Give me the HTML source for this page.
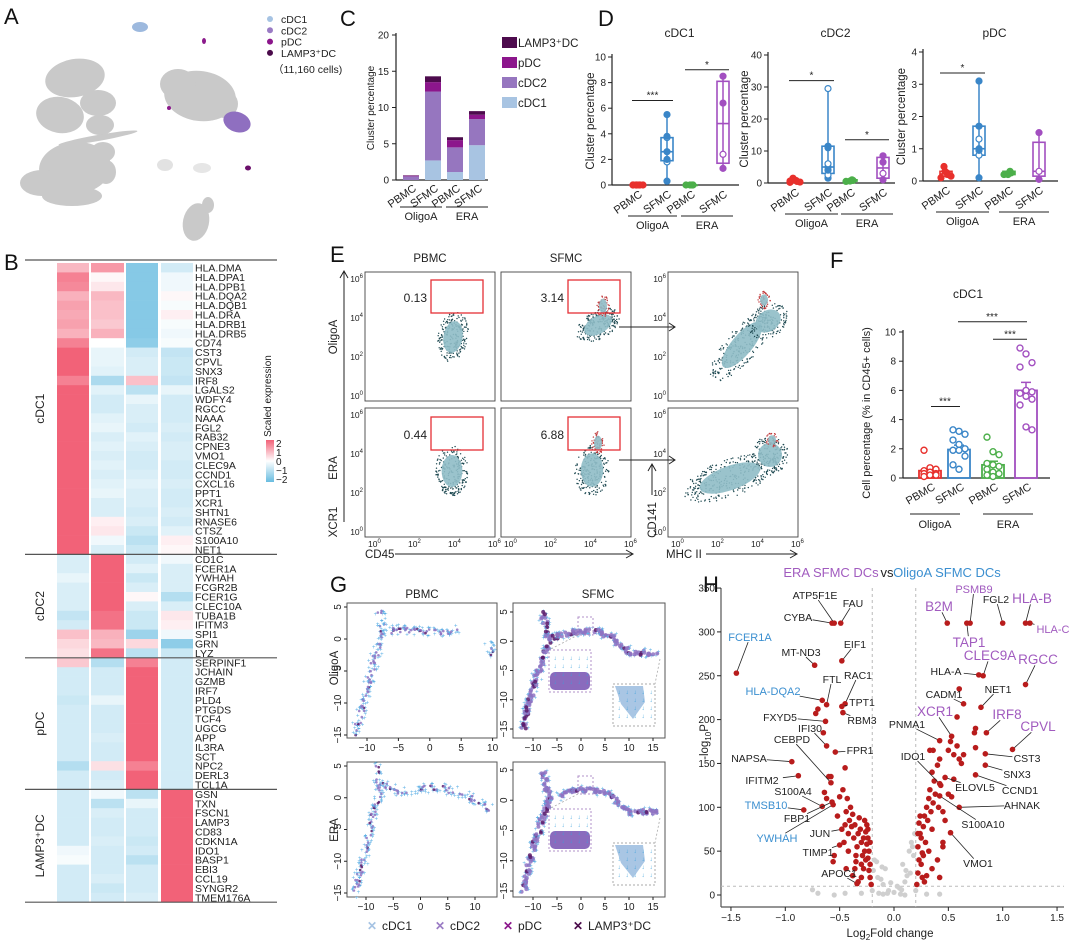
<!DOCTYPE html>
<html><head><meta charset="utf-8"><title>DC figure</title>
<style>
html,body{margin:0;padding:0;background:#fff;}
svg{display:block;font-family:"Liberation Sans",Arial,sans-serif;}
</style></head>
<body>
<svg id="fig" width="1080" height="943" viewBox="0 0 1080 943" xmlns="http://www.w3.org/2000/svg"></svg>
<script>
// ---------- DATA ----------
const bGroups=['cDC1','cDC2','pDC','LAMP3⁺DC'];
const bGroupSizes=[31,11,14,12];
const bGenes=['HLA.DMA','HLA.DPA1','HLA.DPB1','HLA.DQA2','HLA.DQB1','HLA.DRA','HLA.DRB1','HLA.DRB5','CD74','CST3','CPVL','SNX3','IRF8','LGALS2','WDFY4','RGCC','NAAA','FGL2','RAB32','CPNE3','VMO1','CLEC9A','CCND1','CXCL16','PPT1','XCR1','SHTN1','RNASE6','CTSZ','S100A10','NET1',
'CD1C','FCER1A','YWHAH','FCGR2B','FCER1G','CLEC10A','TUBA1B','IFITM3','SPI1','GRN','LYZ',
'SERPINF1','JCHAIN','GZMB','IRF7','PLD4','PTGDS','TCF4','UGCG','APP','IL3RA','SCT','NPC2','DERL3','TCL1A',
'GSN','TXN','FSCN1','LAMP3','CD83','CDKN1A','IDO1','BASP1','EBI3','CCL19','SYNGR2','TMEM176A'];
const bValues=[
[0.9,1.3,-1.6,-0.6],[1.6,0.1,-1.6,-0.2],[1.5,0.3,-1.6,-0.2],[1.0,0.9,-1.6,0.1],[1.2,0.8,-1.6,-0.1],[1.1,0.8,-1.6,0.2],[1.2,0.7,-1.6,-0.1],[1.0,1.0,-1.6,-0.2],[1.6,0.0,-1.5,-0.1],
[2,-0.3,-0.6,-0.8],[2,-0.3,-0.5,-0.7],[2,-0.4,-0.5,-0.7],[1.6,-1.1,0.8,-0.8],[2,-0.4,-0.9,-0.3],[2,-0.6,-0.3,-0.6],[2,-0.6,-0.5,-0.6],[2,-0.4,-0.5,-0.6],[2,-0.3,-0.6,-0.5],[2,-0.5,-0.4,-0.6],[2,-0.4,-0.5,-0.5],[2,-0.5,-0.6,-0.5],[2,-0.4,-0.6,-0.6],[2,-0.5,-0.5,-0.6],[2,-0.4,-0.4,-0.5],[2,-0.3,-0.5,-0.6],[2,-0.5,-0.5,-0.6],[2,-0.5,-0.6,-0.5],[2,0.2,-0.5,-0.6],[2,0.3,-0.7,-0.4],[2,-0.2,-0.9,0.2],[2,-0.5,-0.7,0.1],
[-0.5,2,-0.6,-0.2],[-0.5,2,-0.4,-0.5],[-0.3,2,-0.7,-0.5],[-0.5,2,-0.5,-0.5],[-0.5,2,0.1,-1.0],[-0.5,2,-0.5,-0.5],[-0.8,1.8,-0.7,0.3],[-0.6,1.8,-0.7,0.2],[0.8,1.0,-1.3,-0.2],[0.5,0.9,0.5,-1.5],[0.4,1.8,-0.9,-0.7],
[0.7,-1.0,1.6,-0.6],[-0.6,-0.6,2,-0.6],[-0.6,-0.6,2,-0.6],[-0.6,-0.6,2,-0.6],[-0.7,-0.3,2,-0.6],[-0.6,-0.6,2,-0.6],[-0.6,-0.6,2,-0.6],[-0.6,-0.6,2,-0.6],[-0.6,-0.5,2,-0.6],[-0.6,-0.6,2,-0.6],[-0.6,-0.6,2,-0.6],[-1.0,0.4,1.6,-0.6],[-0.6,-0.6,2,-0.6],[-0.6,-0.5,2,-0.6],
[-0.6,-0.2,-0.9,2],[-0.6,-0.9,-0.3,2],[-0.6,-0.5,-0.6,2],[-0.6,-0.6,-0.6,2],[-0.6,-0.6,-0.6,2],[-0.6,-0.5,-0.7,2],[-0.2,-0.6,-0.6,2],[-0.1,-0.6,-0.9,2],[-0.6,-0.6,-0.6,2],[-0.6,-0.5,-0.6,2],[-0.6,-0.7,-0.6,2],[-0.6,-0.6,-0.5,2]];
const bTicks=[2,1,0,-1,-2];

const cCats=['PBMC','SFMC','PBMC','SFMC'];
const cCDC1=[0,2.7,1.1,4.8];
const cCDC2=[0.5,9.5,3.4,3.6];
const cPDC=[0.1,1.3,1.0,0.6];
const cLAMP3=[0.05,0.8,0.4,0.5];
const cTicks=[0,5,10,15,20];

const dCats=['PBMC','SFMC','PBMC','SFMC'];
const d1Pts=[[0,0,0,0,0,0,0],[0.3,1.8,2.0,2.6,3.7,3.8,5.5],[0,0,0,0],[1.3,2.4,6.4,8.5]];
const d1Box=[[0,0,0,0,0],[0.3,1.9,2.6,3.7,5.5],[0,0,0,0,0],[1.3,1.7,4.8,8.1,8.5]];
const d1Ticks=[0,2,4,6,8,10];
const d2Pts=[[0.2,0.5,0.8,1.0,1.5,0.3,0.6],[1.5,2.5,4,5,6,11,11.5,29.5],[0.5,0.8,1.0,0.6],[1,3,6.5,8.5]];
const d2Box=[[0.2,0.4,0.6,0.9,1.5],[1.5,3,5,11.5,29.5],[0.5,0.6,0.8,1.0,1.0],[1,1.5,4.7,8,8.5]];
const d2Ticks=[0,10,20,30,40];
const d3Pts=[[0.1,0.2,0.25,0.3,0.45,0.15],[0.1,0.8,0.95,1.0,1.3,1.7,3.1],[0.2,0.25,0.3,0.2],[0.05,0.3,1.5]];
const d3Box=[[0.1,0.15,0.22,0.3,0.45],[0.1,0.8,1.0,1.7,3.1],[0.2,0.2,0.25,0.3,0.3],[0.05,0.15,0.3,1.2,1.5]];
const d3Ticks=[0,1,2,3,4];

const eVals=['0.13','3.14','0.44','6.88'];

const fCats=['PBMC','SFMC','PBMC','SFMC'];
const fMeans=[0.5,1.95,0.9,6.0];
const fSem=[0.15,0.3,0.25,0.55];
const fPts=[[1.9,0.7,0.6,0.5,0.4,0.3,0.3,0.2,0.2,0.1],[3.3,3.2,3.0,2.6,2.3,2.0,1.9,1.9,1.5,0.9,0.6],[2.8,1.8,1.6,1.0,0.9,0.8,0.6,0.4,0.3,0.2,0.1],[8.9,8.5,7.9,7.6,6.0,5.9,5.8,5.6,5.4,5.0,3.5,3.3]];
const fTicks=[0,2,4,6,8,10];

const gPathPO=[[-12,-15],[-11,-12],[-10,-8],[-9,-4],[-8,-1],[-7.5,2],[-8,4.8]];
const gBranchPO=[[-7,1],[-5,1.5],[0,1.2],[3,1],[4.5,1.8]];
const gIsoPO=[[9.5,0],[9.8,-3]];
const gPathSO=[[-12,-15],[-10,-8],[-8,-3],[-6.5,0],[-8,5]];
const gBranchSO=[[-6,0.5],[-2,1.5],[2,1.8],[6,1],[10,-2],[16,-2]];
const gPathPE=[[-12,-15],[-10,-8],[-8.5,-2],[-7.5,0],[-8,5]];
const gBranchPE=[[-7,2],[-4,1],[0,1.5],[4,1.5],[8,0.5],[13,-2]];
const gXTicks=[-10,-5,0,5,10,15];
const gYTicks=[5,0,-5,-10,-15];

const hXTicks=[-1.5,-1.0,-0.5,0.0,0.5,1.0,1.5];
const hYTicks=[0,50,100,150,200,250,300,350];
const hRedFC=[-0.21,-0.22,-0.23,-0.22,-0.24,-0.23,-0.25,-0.24,-0.26,-0.25,-0.27,-0.28,-0.29,-0.3,-0.31,-0.3,-0.32,-0.33,-0.34,-0.35,-0.36,-0.37,-0.38,-0.39,-0.4,-0.41,-0.42,-0.43,-0.44,-0.45,-0.46,-0.47,-0.5,-0.52,-0.55,-0.56,-0.6,-0.62,-0.64,-0.58,-0.45,-0.36,-0.38,-0.33,-0.35,-0.28,-0.26,-0.42,-0.44,-0.7,-0.72,-0.65,-0.22,-0.27,-0.3,-0.24,
0.21,0.22,0.23,0.22,0.24,0.23,0.25,0.26,0.27,0.28,0.29,0.3,0.31,0.32,0.33,0.34,0.35,0.36,0.37,0.38,0.4,0.41,0.42,0.43,0.45,0.47,0.5,0.52,0.55,0.58,0.6,0.62,0.64,0.5,0.53,0.45,0.4,0.35,0.3,0.28,0.25,0.26,0.33,0.36,0.55,0.45,0.75,0.74,0.75,0.6,0.58,0.42,0.35,0.32,0.22,0.24,0.27];
const hRedP=[12,20,28,35,42,50,58,65,72,80,85,30,45,60,75,20,88,70,55,38,80,65,92,78,100,85,70,110,95,80,60,120,112,90,45,38,135,110,117,135,145,30,22,15,45,65,40,50,30,212,207,185,60,50,35,75,
12,25,40,55,70,82,65,48,78,90,60,100,85,110,120,95,140,105,130,115,148,100,155,125,95,85,165,175,160,170,155,150,160,115,112,60,40,30,22,15,35,20,165,165,132,55,190,185,168,235,203,20,75,50,70,90,45];
const hGreyFC=[-0.05,0.05,-0.1,0.1,-0.15,0.15,0.0,-0.08,0.08,-0.12,0.12,-0.18,0.18,0.03,-0.03,0.16,-0.16,0.11,-0.11,0.19,-0.19,0.07,-0.2,0.2,-0.3,-0.45,-0.55,-0.7,-0.75,0.3,0.42,-0.1,0.1,0.14,-0.14,0.17,-0.06,0.06];
const hGreyP=[5,8,12,15,20,25,3,30,35,18,22,40,45,10,14,60,38,28,32,70,28,6,5,5,2,2,0,2,6,1,1,1,0,50,2,55,2,1];
const hLabelNames=['FCER1A','CYBA','ATP5F1E','FAU','MT-ND3','EIF1','FTL','RAC1','HLA-DQA2','TPT1','FXYD5','RBM3','IFI30','CEBPD','FPR1','NAPSA','IFITM2','S100A4','TMSB10','FBP1','JUN','YWHAH','TIMP1','APOC1',
'B2M','PSMB9','FGL2','HLA-B','HLA-C','TAP1','CLEC9A','RGCC','HLA-A','NET1','CADM1','XCR1','IRF8','CPVL','PNMA1','CST3','IDO1','SNX3','ELOVL5','CCND1','AHNAK','S100A10','VMO1'];
const hLabelFC=[-1.45,-0.57,-0.55,-0.49,-0.73,-0.48,-0.62,-0.45,-0.66,-0.48,-0.63,-0.47,-0.62,-0.58,-0.54,-0.94,-0.88,-0.66,-0.83,-0.57,-0.48,-0.56,-0.5,-0.34,
0.49,0.7,1.0,1.21,1.25,0.67,0.82,1.21,0.78,0.8,0.64,0.53,0.85,1.09,0.42,0.84,0.42,0.84,0.47,0.75,0.6,0.42,0.52];
const hLabelP=[253,310,310,310,262,267,217,218,222,215,198,208,170,128,163,152,136,101,97,106,75,103,57,13,
310,310,310,310,310,310,250,240,251,214,218,181,185,166,176,161,127,148,134,137,100,113,71];

// ---------- HELPERS ----------
const NS='http://www.w3.org/2000/svg';
const svg=document.getElementById('fig');
function el(tag,attrs,parent,name,inter){
  const e=document.createElementNS(NS,tag);
  for(const k in attrs) e.setAttribute(k,attrs[k]);
  
  
  (parent||svg).appendChild(e);
  return e;
}
function tx(x,y,s,size,parent,name,opt){
  opt=opt||{};
  const a={x:x,y:y,'font-size':size,fill:opt.fill||'#222'};
  if(opt.anchor) a['text-anchor']=opt.anchor;
  if(opt.rot!==undefined) a.transform='rotate('+opt.rot+' '+x+' '+y+')';
  if(opt.weight) a['font-weight']=opt.weight;
  const t=el('text',a,parent,name);
  t.textContent=s;
  return t;
}
function line(x1,y1,x2,y2,parent,name,stroke,w,dash){
  const a={x1:x1,y1:y1,x2:x2,y2:y2,stroke:stroke||'#222','stroke-width':w||1};
  if(dash) a['stroke-dasharray']=dash;
  return el('line',a,parent,name);
}
function rnd(i){const v=Math.sin(i*12.9898+78.233)*43758.5453;return v-Math.floor(v);}
function group(name){return el('g',{},svg,name);}
function letter(x,y,s){tx(x,y,s,22,svg,'panel-label-'+s.toLowerCase(),{fill:'#111'});}

// ---------- PANEL A ----------
letter(4,24,'A');
const gA=group('umap-panel');
const blobs=[[75,78,30,19,-10],[98,103,18,13,0],[60,115,24,18,10],[100,125,14,10,0],[75,168,36,26,-5],[42,183,22,13,0],[103,152,12,10,0],[72,196,30,10,0],[106,172,10,12,0],[98,138,40,3,-10],
[200,96,36,25,8],[178,84,18,15,0],[224,104,14,14,0],[196,222,13,19,12],[208,205,6,8,0]];
blobs.forEach((b,i)=>{el('ellipse',{cx:b[0],cy:b[1],rx:b[2],ry:b[3],fill:'#c9c9c9',transform:'rotate('+b[4]+' '+b[0]+' '+b[1]+')'},gA,'umap-cluster');});
el('ellipse',{cx:165,cy:165,rx:8,ry:6,fill:'#e2e2e2'},gA,'umap-cluster-small');
el('ellipse',{cx:202,cy:168,rx:9,ry:5,fill:'#e6e6e6'},gA,'umap-cluster-small');
el('ellipse',{cx:140,cy:27,rx:8,ry:5,fill:'#9db9de'},gA,'umap-cdc1-cluster');
el('ellipse',{cx:237,cy:122,rx:14,ry:10,fill:'#8f6fc0',transform:'rotate(20 237 122)'},gA,'umap-cdc2-cluster');
el('ellipse',{cx:204,cy:41,rx:2,ry:3,fill:'#8b1a8b'},gA,'umap-pdc-cluster');
el('ellipse',{cx:169,cy:108,rx:2,ry:2,fill:'#8b1a8b'},gA,'umap-pdc-cluster');
el('ellipse',{cx:248,cy:168,rx:3,ry:2.5,fill:'#6b0f6b'},gA,'umap-lamp3-cluster');
const aLeg=[['cDC1','#a6c3e3'],['cDC2','#9a7bc4'],['pDC','#8b168b'],['LAMP3⁺DC','#4a0a4a']];
aLeg.forEach((l,i)=>{
  const g=el('g',{},gA,'legend-entry-'+l[0].toLowerCase().replace('⁺',''));
  el('circle',{cx:270,cy:19+i*11.3,r:3,fill:l[1]},g,'legend-marker');
  tx(281,23+i*11.3,l[0],10.5,g,'legend-label');
});
tx(273,73,'（11,160 cells)',10.5,gA,'cell-count-note');

// ---------- PANEL B ----------
letter(4,270,'B');
const gB=group('heatmap-panel');
function hmColor(v){
  v=Math.max(-2,Math.min(2,v));
  let r,g,b;
  if(v>=0){const t=v/2;r=255-(255-242)*t;g=255-(255-98)*t;b=255-(255-120)*t;}
  else{const t=-v/2;r=255-(255-104)*t;g=255-(255-188)*t;b=255-(255-224)*t;}
  return 'rgb('+Math.round(r)+','+Math.round(g)+','+Math.round(b)+')';
}
const rowH=9.4, hmTop=263, colX=[57,91,126,161], colW=[32,33,32,32];
bValues.forEach((row,ri)=>{
  row.forEach((v,ci)=>{
    el('rect',{x:colX[ci],y:(hmTop+ri*rowH).toFixed(2),width:colW[ci],height:(rowH+0.3).toFixed(2),fill:hmColor(v)},gB,'heatmap-cell');
  });
  tx(195,hmTop+ri*rowH+8.5,bGenes[ri],10.5,gB,'gene-label',{fill:'#222'});
});
let acc=0;
line(25,260,277,260,gB,'group-separator','#555',1.2);
bGroupSizes.forEach((n,i)=>{
  const y0=hmTop+acc*rowH; acc+=n; const y1=hmTop+acc*rowH;
  line(25,y1,277,y1,gB,'group-separator','#555',1.2);
  tx(44,(y0+y1)/2,bGroups[i],12,gB,'group-label-'+i,{anchor:'middle',rot:-90});
});
tx(271,396,'Scaled expression',10,gB,'colorbar-title',{anchor:'middle',rot:-90});
const defs=el('defs',{},svg,'defs');
const lg=el('linearGradient',{id:'cbar',x1:0,y1:0,x2:0,y2:1},defs,'colorbar-gradient');
[[0,2],[0.5,0],[1,-2]].forEach(s=>{el('stop',{offset:s[0],'stop-color':hmColor(s[1])},lg,'gradient-stop');});
el('rect',{x:266,y:440,width:8,height:42,fill:'url(#cbar)'},gB,'colorbar');
bTicks.forEach((t,i)=>{tx(276,447+i*9,(t<0?'−':'')+Math.abs(t),10,gB,'colorbar-tick');});

// ---------- PANEL C ----------
letter(340,26,'C');
const gC=group('stacked-bar-panel');
const yC=v=>180-v*(145/20);
const xC=i=>411+i*22;
line(396,33,396,180,gC,'y-axis','#222',1.2);
line(396,180,488,180,gC,'x-axis','#222',1.2);
cTicks.forEach(t=>{line(392,yC(t),396,yC(t),gC,'y-tick');tx(389,yC(t)+3.5,String(t),10,gC,'y-tick-label',{anchor:'end'});});
tx(374,108,'Cluster percentage',10,gC,'y-axis-title',{anchor:'middle',rot:-90});
const cSeries=[[cCDC1,'#a8c4e2','cdc1'],[cCDC2,'#9676bf','cdc2'],[cPDC,'#8c168c','pdc'],[cLAMP3,'#4d0b4d','lamp3']];
cCats.forEach((c,i)=>{
  let base=0;
  cSeries.forEach(s=>{
    const v=s[0][i];
    el('rect',{x:xC(i)-8,y:yC(base+v),width:16,height:yC(base)-yC(base+v),fill:s[1]},gC,'bar-'+s[2]+'-'+i);
    base+=v;
  });
  tx(xC(i)+6,190,c,11,gC,'x-tick-label',{anchor:'end',rot:-35});
});
line(400,207,442,207,gC,'group-line-oligoa');tx(421,220,'OligoA',11,gC,'group-label-oligoa',{anchor:'middle'});
line(446,207,488,207,gC,'group-line-era');tx(467,220,'ERA',11,gC,'group-label-era',{anchor:'middle'});
cSeries.slice().reverse().forEach((s,i)=>{
  const g=el('g',{},gC,'legend-entry-'+s[2]);
  el('rect',{x:502,y:37+i*20,width:15,height:11,fill:s[1]},g,'legend-swatch');
  tx(518,47+i*20,['LAMP3⁺DC','pDC','cDC2','cDC1'][i],11.5,g,'legend-label');
});

// ---------- PANEL D ----------
letter(598,26,'D');
const dCols=['#e8302c','#3a86c8','#4caf4a','#a24fc0'];
function boxPanel(cfg){
  const g=group('boxplot-'+cfg.name);
  const y=v=>cfg.y0-v*(cfg.y0-cfg.yt)/cfg.max;
  line(cfg.ax,cfg.yt-3,cfg.ax,cfg.y0,g,'y-axis','#222',1.2);
  line(cfg.ax,cfg.y0,cfg.end,cfg.y0,g,'x-axis','#222',1.2);
  cfg.ticks.forEach(t=>{line(cfg.ax-4,y(t),cfg.ax,y(t),g,'y-tick');tx(cfg.ax-6,y(t)+3.5,String(t),10,g,'y-tick-label',{anchor:'end'});});
  tx(cfg.ylx,(cfg.y0+cfg.yt)/2,'Cluster percentage',11.5,g,'y-axis-title',{anchor:'middle',rot:-90});
  tx((cfg.ax+cfg.end)/2+4,37,cfg.name,12,g,'panel-title',{anchor:'middle'});
  cfg.box.forEach((b,i)=>{
    const x=cfg.xs[i],c=dCols[i],w=12;
    line(x,y(b[0]),x,y(b[4]),g,'whisker',c,1.5);
    el('rect',{x:x-w/2,y:y(b[3]),width:w,height:Math.max(0.5,y(b[1])-y(b[3])),fill:'none',stroke:c,'stroke-width':1.6},g,'box-'+i);
    line(x-w/2,y(b[2]),x+w/2,y(b[2]),g,'median',c,1.6);
    cfg.pts[i].forEach((p,k)=>{
      const open=(i%2===1)&&(k%3===1);
      el('circle',{cx:x+((k%2)?2:-2)*(i%2?0:1)+(i%2?0:(k%3-1)*3),cy:y(p),r:3,fill:open?'#fff':c,stroke:c,'stroke-width':1.2},g,'data-point');
    });
    tx(x+5,cfg.y0+11,cfg.cats[i],11,g,'x-tick-label',{anchor:'end',rot:-35});
  });
  cfg.sig.forEach(s=>{
    line(cfg.xs[s[0]]-6,y(s[2]),cfg.xs[s[1]]+6,y(s[2]),g,'significance-bar');
    tx((cfg.xs[s[0]]+cfg.xs[s[1]])/2,y(s[2])-2,s[3],10,g,'significance-stars',{anchor:'middle'});
  });
  line(cfg.xs[0]-10,cfg.y0+31,cfg.xs[1]+10,cfg.y0+31,g,'group-line-oligoa');
  tx((cfg.xs[0]+cfg.xs[1])/2,cfg.y0+44,'OligoA',11,g,'group-label-oligoa',{anchor:'middle'});
  line(cfg.xs[2]-10,cfg.y0+31,cfg.xs[3]+10,cfg.y0+31,g,'group-line-era');
  tx((cfg.xs[2]+cfg.xs[3])/2,cfg.y0+44,'ERA',11,g,'group-label-era',{anchor:'middle'});
}
boxPanel({name:'cDC1',ax:612,xs:[638,667,691,723],y0:185,yt:57,max:10,ticks:d1Ticks,end:739,ylx:594,box:d1Box,pts:d1Pts,cats:dCats,sig:[[0,1,6.6,'***'],[2,3,9.0,'*']]});
boxPanel({name:'cDC2',ax:768,xs:[795,828,851,883],y0:183,yt:55,max:40,ticks:d2Ticks,end:895,ylx:748,box:d2Box,pts:d2Pts,cats:dCats,sig:[[0,1,32,'*'],[2,3,13.5,'*']]});
boxPanel({name:'pDC',ax:923,xs:[946,979,1009,1039],y0:181,yt:52,max:4,ticks:d3Ticks,end:1058,ylx:905,box:d3Box,pts:d3Pts,cats:dCats,sig:[[0,1,3.35,'*']]});

// ---------- PANEL E ----------
letter(330,262,'E');
const gE=group('flow-panel');
tx(430,262,'PBMC',11.5,gE,'column-title-pbmc',{anchor:'middle'});
tx(566,262,'SFMC',11.5,gE,'column-title-sfmc',{anchor:'middle'});
const ePlots=[[365,272],[501,272],[668,272],[365,408],[501,408],[668,408]];
ePlots.forEach((p,i)=>{el('rect',{x:p[0],y:p[1],width:130,height:129,fill:'#fff',stroke:'#444','stroke-width':0.9},gE,'flow-plot-'+i);});
function cloud(cx,cy,rx,ry,rot,n,seed,col,g){
  const r=rot*Math.PI/180;
  for(let i=0;i<n;i++){
    const a=rnd(seed*977+i)*Math.PI*2, d=Math.sqrt(rnd(seed*977+i+500))*1.25;
    const px=Math.cos(a)*rx*d, py=Math.sin(a)*ry*d;
    el('circle',{cx:(cx+px*Math.cos(r)-py*Math.sin(r)).toFixed(1),cy:(cy+px*Math.sin(r)+py*Math.cos(r)).toFixed(1),r:0.7,fill:col},g,'event-dot');
  }
  el('ellipse',{cx:cx,cy:cy,rx:rx*0.8,ry:ry*0.8,fill:'#8fbcc6',opacity:0.9,transform:'rotate('+rot+' '+cx+' '+cy+')'},g,'density-core');
}
cloud(453,337,12,20,10,220,1,'#1f4a52',gE);
cloud(598,325,19,11,-30,220,2,'#1f4a52',gE);
cloud(603,306,5,9,0,60,3,'#c0393b',gE);
cloud(742,345,13,36,40,260,4,'#1f4a52',gE);
cloud(768,321,17,13,-35,140,5,'#1f4a52',gE);
cloud(764,300,5,7,0,45,6,'#c0393b',gE);
cloud(452,471,13,20,0,220,7,'#1f4a52',gE);
cloud(592,470,14,21,0,220,8,'#1f4a52',gE);
cloud(598,443,5,9,0,60,9,'#c0393b',gE);
cloud(730,478,40,15,-20,320,10,'#1f4a52',gE);
cloud(770,455,15,15,0,140,11,'#1f4a52',gE);
cloud(772,440,5,6,0,40,12,'#c0393b',gE);
[[431,280],[568,280],[431,417],[568,417]].forEach((p,i)=>{
  el('rect',{x:p[0],y:p[1],width:52,height:33,fill:'none',stroke:'#e53035','stroke-width':1.3},gE,'gate-'+i);
  tx(p[0]-4,p[1]+22,eVals[i],12,gE,'gate-percentage',{anchor:'end'});
});
[[619,327],[619,460]].forEach((a,i)=>{
  line(a[0],a[1],675,a[1],gE,'gating-arrow');
  el('path',{d:'M669 '+(a[1]-4)+' L675 '+a[1]+' L669 '+(a[1]+4),fill:'none',stroke:'#222'},gE,'arrow-head');
});
const eT=['0','2','4','6'];
[[365,272],[365,408],[668,272],[668,408]].forEach((p,pi)=>{
  eT.forEach((t,i)=>{
    const yy=p[1]+124-i*39;
    const tt=tx(p[0]-2,yy+3,'10',8.5,gE,'y-tick-label',{anchor:'end'});
    const s=el('tspan',{dy:-4,'font-size':6},tt,'exponent');s.textContent=t;
  });
});
[365,501,668].forEach(x0=>{
  eT.forEach((t,i)=>{
    const tt=tx(x0+3+i*40,547,'10',8.5,gE,'x-tick-label',{anchor:'start'});
    const s=el('tspan',{dy:-4,'font-size':6},tt,'exponent');s.textContent=t;
  });
});
tx(337,337,'OligoA',11.5,gE,'row-label-oligoa',{anchor:'middle',rot:-90});
tx(337,468,'ERA',11.5,gE,'row-label-era',{anchor:'middle',rot:-90});
line(344,522,344,272,gE,'y-axis-arrow');
el('path',{d:'M340 278 L344 271 L348 278',fill:'none',stroke:'#222'},gE,'arrow-head');
tx(337,522,'XCR1',11.5,gE,'y-axis-title-xcr1',{anchor:'middle',rot:-90});
tx(365,558,'CD45',11.5,gE,'x-axis-title-cd45');
line(395,554,632,554,gE,'x-axis-arrow');
el('path',{d:'M626 550 L633 554 L626 558',fill:'none',stroke:'#222'},gE,'arrow-head');
tx(656,520,'CD141',11.5,gE,'y-axis-title-cd141',{anchor:'middle',rot:-90});
line(652,495,652,465,gE,'y-axis-arrow');
el('path',{d:'M648 471 L652 464 L656 471',fill:'none',stroke:'#222'},gE,'arrow-head');
tx(666,558,'MHC II',11.5,gE,'x-axis-title-mhcii');
line(706,554,796,554,gE,'x-axis-arrow');
el('path',{d:'M790 550 L797 554 L790 558',fill:'none',stroke:'#222'},gE,'arrow-head');

// ---------- PANEL F ----------
letter(830,268,'F');
const gF=group('bar-panel-f');
const yF=v=>478-v*14.6;
const xF=[930,959,993,1026];
line(903,330,903,478,gF,'y-axis','#222',1.2);
line(903,478,1050,478,gF,'x-axis','#222',1.2);
fTicks.forEach(t=>{line(899,yF(t),903,yF(t),gF,'y-tick');tx(896,yF(t)+3.5,String(t),10,gF,'y-tick-label',{anchor:'end'});});
tx(968,298,'cDC1',12,gF,'panel-title',{anchor:'middle'});
tx(870,413,'Cell percentage (% in CD45+ cells)',11,gF,'y-axis-title',{anchor:'middle',rot:-90});
fCats.forEach((c,i)=>{
  const x=xF[i],col=dCols[i];
  el('rect',{x:x-11,y:yF(fMeans[i]),width:22,height:yF(0)-yF(fMeans[i]),fill:'none',stroke:col,'stroke-width':1.8},gF,'bar-'+i);
  line(x,yF(fMeans[i]),x,yF(fMeans[i]+fSem[i]),gF,'error-bar',col,1.5);
  line(x-5,yF(fMeans[i]+fSem[i]),x+5,yF(fMeans[i]+fSem[i]),gF,'error-cap',col,1.5);
  fPts[i].forEach((p,k)=>{
    el('circle',{cx:x+((k%3)-1)*6,cy:yF(p),r:3,fill:'#fff',stroke:col,'stroke-width':1.4},gF,'data-point');
  });
  tx(x+6,489,c,11,gF,'x-tick-label',{anchor:'end',rot:-30});
});
line(931,yF(4.9),960,yF(4.9),gF,'significance-bar');tx(945,yF(4.9)-2,'***',10,gF,'significance-stars',{anchor:'middle'});
line(993,yF(9.5),1027,yF(9.5),gF,'significance-bar');tx(1010,yF(9.5)-2,'***',10,gF,'significance-stars',{anchor:'middle'});
line(958,yF(10.7),1027,yF(10.7),gF,'significance-bar');tx(992,yF(10.7)-2,'***',10,gF,'significance-stars',{anchor:'middle'});
line(910,514,960,514,gF,'group-line-oligoa');tx(935,528,'OligoA',11,gF,'group-label-oligoa',{anchor:'middle'});
line(983,514,1033,514,gF,'group-line-era');tx(1008,528,'ERA',11,gF,'group-label-era',{anchor:'middle'});

// ---------- PANEL G ----------
letter(330,592,'G');
const gG=group('trajectory-panel');
tx(422,598,'PBMC',11.5,gG,'column-title-pbmc',{anchor:'middle'});
tx(598,598,'SFMC',11.5,gG,'column-title-sfmc',{anchor:'middle'});
tx(338,668,'OligoA',11.5,gG,'row-label-oligoa',{anchor:'middle',rot:-90});
tx(338,830,'ERA',11.5,gG,'row-label-era',{anchor:'middle',rot:-90});
const gPlots=[
 {x:347,y:603,w:150,h:135,x0:367,sx:6.28,y5:607,sy:6.4,paths:[gPathPO,gBranchPO,gIsoPO],sf:false},
 {x:513,y:603,w:152,h:135,x0:533,sx:4.8,y5:612,sy:5.85,paths:[gPathSO,gBranchSO],sf:true},
 {x:347,y:762,w:150,h:135,x0:366,sx:5.45,y5:766,sy:6.35,paths:[gPathPE,gBranchPE],sf:false},
 {x:513,y:762,w:152,h:135,x0:533,sx:4.8,y5:770,sy:6.05,paths:[gPathSO,gBranchSO],sf:true}];
gPlots.forEach((P,pi)=>{
  const g=el('g',{},gG,'trajectory-plot-'+pi);
  el('rect',{x:P.x,y:P.y,width:P.w,height:P.h,fill:'#fff',stroke:'#555','stroke-width':1},g,'plot-frame');
  const X=v=>P.x0+(v+10)*P.sx, Y=v=>P.y5+(5-v)*P.sy;
  gXTicks.forEach(t=>{const xx=X(t); if(xx>P.x-2&&xx<P.x+P.w+2){line(xx,P.y+P.h,xx,P.y+P.h+3,g,'x-tick');tx(xx,P.y+P.h+13,(t<0?'−':'')+Math.abs(t),10,g,'x-tick-label',{anchor:'middle'});}});
  gYTicks.forEach(t=>{const yy=Y(t);line(P.x-3,yy,P.x,yy,g,'y-tick');tx(P.x-6,yy,(t<0?'−':'')+Math.abs(t),10,g,'y-tick-label',{anchor:'middle',rot:-90});});
  let k=pi*1000;
  P.paths.forEach((pth,bi)=>{
    for(let s=0;s<pth.length-1;s++){
      const a=pth[s],b=pth[s+1];
      const len=Math.hypot(X(b[0])-X(a[0]),Y(b[1])-Y(a[1]));
      const n=Math.max(3,Math.round(len/1.1));
      for(let j=0;j<n;j++){
        const t=j/n,px=X(a[0]+(b[0]-a[0])*t),py=Y(a[1]+(b[1]-a[1])*t);
        k++;
        const jx=(rnd(k)-0.5)*10,jy=(rnd(k+7)-0.5)*10;
        el('text',{x:(px+jx).toFixed(1),y:(py+jy+2).toFixed(1),'font-size':6,fill:'#5fb1e6','text-anchor':'middle'},g,'cell-marker').textContent='+';
        if(rnd(k+3)<(P.sf?0.8:0.5)){
          el('circle',{cx:(px+jx*0.5).toFixed(1),cy:(py+jy*0.5).toFixed(1),r:P.sf?2:1.3,fill:rnd(k+9)<0.15?'#5a1a6a':'#8e72c2',opacity:0.85},g,'cell-point');
        }
      }
    }
  });
  if(P.sf){
    const b1=[549,P.y+47,42,42],b2=[613,P.y+81,42,42];
    el('rect',{x:b1[0],y:b1[1],width:b1[2],height:b1[3],fill:'#fff',stroke:'#b090c8','stroke-dasharray':'2 2'},g,'inset-box');
    el('rect',{x:b1[0]+1,y:b1[1]+22,width:40,height:18,rx:5,fill:'#8a6bbd'},g,'inset-density');
    el('rect',{x:b2[0],y:b2[1],width:b2[2],height:b2[3],fill:'#fff',stroke:'#aaa','stroke-dasharray':'2 2'},g,'inset-box');
    el('path',{d:'M'+(b2[0]+2)+' '+(b2[1]+2)+' L'+(b2[0]+30)+' '+(b2[1]+2)+' L'+(b2[0]+32)+' '+(b2[1]+18)+' L'+(b2[0]+20)+' '+(b2[1]+35)+' L'+(b2[0]+8)+' '+(b2[1]+20)+'Z',fill:'#a9c6e4'},g,'inset-density');
    for(let r=0;r<4;r++)for(let c=0;c<5;c++){
      el('text',{x:b1[0]+6+c*8,y:b1[1]+10+r*8,'font-size':6,fill:'#3aa0dc','text-anchor':'middle'},g,'velocity-arrow').textContent='↓';
      el('text',{x:b2[0]+6+c*8,y:b2[1]+10+r*8,'font-size':6,fill:'#3aa0dc','text-anchor':'middle'},g,'velocity-arrow').textContent='↓';
    }
    el('rect',{x:578,y:P.y+14,width:15,height:18,fill:'none',stroke:'#b090c8','stroke-dasharray':'2 2'},g,'zoom-region');
    line(578,P.y+32,549,b1[1],g,'zoom-link','#aaa',0.8,'2 2');
    line(660,P.y+56,655,b2[1],g,'zoom-link','#aaa',0.8,'2 2');
  }
});
const gLeg=[['cDC1','#a6c3e3',372],['cDC2','#9a7bc4',440],['pDC','#8b168b',508],['LAMP3⁺DC','#4a0a4a',578]];
gLeg.forEach(l=>{
  const g=el('g',{},gG,'legend-entry-'+l[0].toLowerCase().replace('⁺',''));
  tx(l[2],930,'✕',12,g,'legend-marker',{anchor:'middle',fill:l[1],weight:'bold'});
  tx(l[2]+10,930,l[0],12,g,'legend-label');
});

// ---------- PANEL H ----------
letter(703,592,'H');
const gH=group('volcano-panel');
const xH=v=>894+v*108.7;
const yH=v=>895-v*0.877;
line(721,588,721,907,gH,'y-axis','#555',1.2);
line(721,907,1064,907,gH,'x-axis','#555',1.2);
hXTicks.forEach(t=>{line(xH(t),907,xH(t),911,gH,'x-tick');tx(xH(t),921,(t<0?'−':'')+Math.abs(t).toFixed(1),10,gH,'x-tick-label',{anchor:'middle'});});
hYTicks.forEach(t=>{line(717,yH(t),721,yH(t),gH,'y-tick');tx(715,yH(t)+3.5,String(t),10,gH,'y-tick-label',{anchor:'end'});});
const xl=tx(890,937,'Log',11.5,gH,'x-axis-title',{anchor:'middle'});
const xs1=el('tspan',{'font-size':8,dy:3},xl,'subscript');xs1.textContent='2';
const xs2=el('tspan',{dy:-3},xl,'x-axis-title-rest');xs2.textContent='Fold change';
const yl=tx(708,742,'-log',11.5,gH,'y-axis-title',{anchor:'middle',rot:-90});
const ys1=el('tspan',{'font-size':8,dy:3},yl,'subscript');ys1.textContent='10';
const ys2=el('tspan',{dy:-3},yl,'y-axis-title-rest');ys2.textContent='P';
line(xH(-0.2),588,xH(-0.2),907,gH,'threshold-line','#bbb',1,'3 3');
line(xH(0.2),588,xH(0.2),907,gH,'threshold-line','#bbb',1,'3 3');
line(721,yH(10),1064,yH(10),gH,'pvalue-threshold','#bbb',1,'3 3');
tx(831,577,'ERA SFMC DCs',13,gH,'volcano-title',{anchor:'middle',fill:'#a15bbf'});
tx(887,577,'vs',13,gH,'volcano-title-vs',{anchor:'middle'});
tx(947,577,'OligoA SFMC DCs',13,gH,'volcano-title-right',{anchor:'middle',fill:'#3b8fd0'});
hGreyFC.forEach((f,i)=>{el('circle',{cx:xH(f),cy:yH(hGreyP[i]),r:2.6,fill:'#cfcfcf'},gH,'point-ns');});
hRedFC.forEach((f,i)=>{el('circle',{cx:xH(f),cy:yH(hRedP[i]),r:2.8,fill:'#b81c1c'},gH,'point-sig');});
const hLabelPos=[[750,641],[798,621],[815,599],[853,607],[801,656],[855,648],[832,683],[858,679],[773,695],[862,706],[780,721],[862,724],[810,732],[792,743],[860,754],[749,762],[762,784],[793,795],[766,809],[797,822],[820,837],[777,842],[818,856],[839,877],
[939,611],[974,593],[996,603],[1032,603],[1053,633],[969,647],[990,660],[1038,664],[946,675],[998,693],[944,698],[935,716],[1007,719],[1038,731],[907,728],[1027,762],[913,760],[1017,778],[975,791],[1020,794],[1022,809],[983,828],[978,867]];
const purpleBig={'B2M':1,'HLA-B':1,'TAP1':1,'CLEC9A':1,'RGCC':1,'XCR1':1,'IRF8':1,'CPVL':1};
const purpleSmall={'PSMB9':1,'HLA-C':1};
const blueL={'FCER1A':1,'HLA-DQA2':1,'TMSB10':1,'YWHAH':1};
hLabelNames.forEach((n,i)=>{
  const px=xH(hLabelFC[i]),py=yH(hLabelP[i]);
  const lx=hLabelPos[i][0],ly=hLabelPos[i][1];
  let fs=10.5,col='#222';
  if(purpleBig[n]){fs=13.5;col='#a15bbf';} else if(purpleSmall[n]){fs=11;col='#a15bbf';} else if(blueL[n]){fs=11;col='#3b8fd0';}
  const hw=n.length*fs*0.3+2,hh=fs*0.45;
  const dx=px-lx,dy=py-(ly-fs*0.35);
  const sc=Math.min(Math.abs(dx)>0?hw/Math.abs(dx):1e9,Math.abs(dy)>0?hh/Math.abs(dy):1e9);
  if(Math.hypot(dx,dy)>12&&sc<1){line(lx+dx*sc,ly-fs*0.35+dy*sc,px,py,gH,'label-leader','#222',0.8);}
  el('circle',{cx:px,cy:py,r:2.8,fill:'#b81c1c'},gH,'point-labeled');
  tx(lx,ly,n,fs,gH,'gene-label-'+n.toLowerCase(),{anchor:'middle',fill:col});
});
</script>
</body></html>
